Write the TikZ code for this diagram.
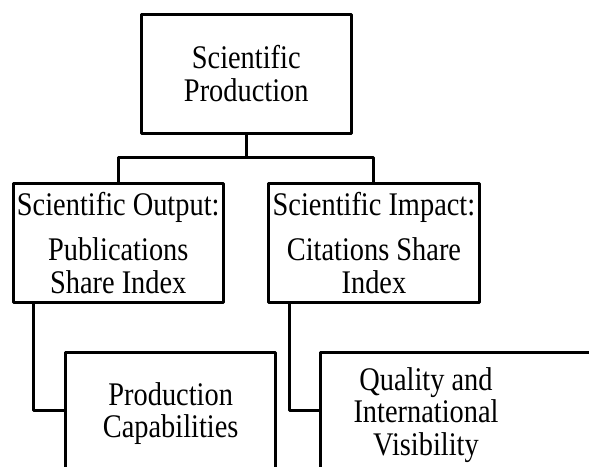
\documentclass[tikz,border=0pt]{standalone}
\usepackage{fontspec}
\setmainfont{Liberation Serif}[FakeStretch=0.86]
\usetikzlibrary{calc}
\begin{document}
\begin{tikzpicture}[x=1pt,y=-1pt,
  txt/.style={font=\fontsize{33}{32.5}\selectfont, align=center},
  box/.style={draw, line width=3pt, line join=round, outer sep=0pt, inner sep=0pt,
    minimum width=210.5pt, minimum height=119pt, anchor=north west, txt},
  label/.style={inner sep=0pt, txt},
  link/.style={line width=3pt, line join=round}]
\useasboundingbox (0,0) rectangle (589,466);
\clip (0,0) rectangle (589,466);

% root
\node[box] (top) at (141,14) {Scientific\\Production};

% second level
\node[box] (out) at (13,183.3) {Scientific Output:\\[13pt]Publications\\Share Index};
\node[box] (imp) at (268.7,183.3) {Scientific Impact:\\[13pt]Citations Share\\Index};

% third level (running off the page)
\node[box, minimum height=116pt] (cap) at (65.3,352.3) {};
\node[box, minimum width=330pt, minimum height=116pt] (vis) at (320,352.3) {};
\node[label] (capt) at (170.7,413.6) {Production\\Capabilities};
\node[label] (vist) at (426,414.8) {Quality and\\International\\Visibility};

% connectors
\draw[link] (top.south) -- ++(0,24.3) coordinate (fork);
\draw[link] (out.north) |- (fork) -| (imp.north);
\draw[link] ($(out.south west)+(20.3,0)$) |- (cap.west);
\draw[link] ($(imp.south west)+(20.6,0)$) |- (vis.west);
\end{tikzpicture}
\end{document}
